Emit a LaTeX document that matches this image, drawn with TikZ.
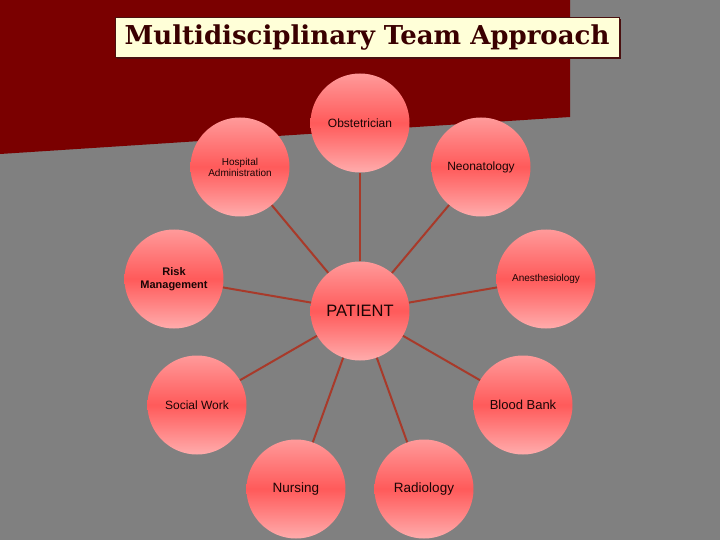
\documentclass[tikz,border=0pt]{standalone}
\usepackage{fontspec}
\setmainfont{Liberation Sans}
\newfontfamily\titlefont{DejaVu Serif}

\definecolor{bggray}{HTML}{808080}
\definecolor{wallred}{HTML}{7A0000}
\definecolor{titlefill}{HTML}{FFFFD8}
\definecolor{titleborder}{HTML}{4A1010}
\definecolor{titletext}{HTML}{3A0000}
\definecolor{circtop}{HTML}{FF9A9A}
\definecolor{circmid}{HTML}{FF5A5A}
\definecolor{circbot}{HTML}{FFACAC}
\definecolor{linkred}{HTML}{A83A2A}
\definecolor{labeltext}{HTML}{1A0505}

\begin{document}
\begin{tikzpicture}[x=1pt,y=-1pt,
  team/.style={circle, minimum size=99pt, inner sep=0pt, align=center,
    top color=circtop, bottom color=circbot, middle color=circmid,
    text=labeltext, font=\fontsize{12}{13}\selectfont},
  small/.style={font=\fontsize{10}{11}\selectfont},
  big/.style={font=\fontsize{13.5}{14}\selectfont},
  link/.style={draw=linkred, line width=2pt}]

% backdrop
\useasboundingbox (0,0) rectangle (720,540);
\fill[bggray] (0,0) rectangle (720,540);
\fill[wallred] (0,0) -- (570,0) -- (570,117) -- (0,154) -- cycle;

% title
\fill[titleborder] (116.5,19.5) rectangle (620.5,59.5);
\node[draw=titleborder, line width=1pt, fill=titlefill, minimum width=504pt,
  minimum height=40pt, inner sep=0pt, text=titletext,
  font=\titlefont\bfseries\fontsize{26}{28}\selectfont] (title) at (367,38)
  {Multidisciplinary Team Approach};

% team members
\node[team] (obst) at (360,123) {Obstetrician};
\node[team, small] (hosp) at (240,167) {Hospital\\Administration};
\node[team] (neo) at (481,167) {Neonatology};
\node[team, font=\fontsize{11}{13.5}\selectfont\bfseries] (risk) at (174,279) {Risk\\Management};
\node[team, small] (anest) at (546,279) {Anesthesiology};
\node[team, font=\fontsize{16.5}{18}\selectfont] (patient) at (360,311) {PATIENT};
\node[team] (social) at (197,405) {Social Work};
\node[team, font=\fontsize{13}{14}\selectfont] (blood) at (523,405) {Blood Bank};
\node[team, big] (nursing) at (296,489) {Nursing};
\node[team, big] (radio) at (424,489) {Radiology};

% spokes
\foreach \m in {obst,hosp,neo,risk,anest,social,blood,nursing,radio}
  \draw[link] (patient) -- (\m);
\end{tikzpicture}
\end{document}
